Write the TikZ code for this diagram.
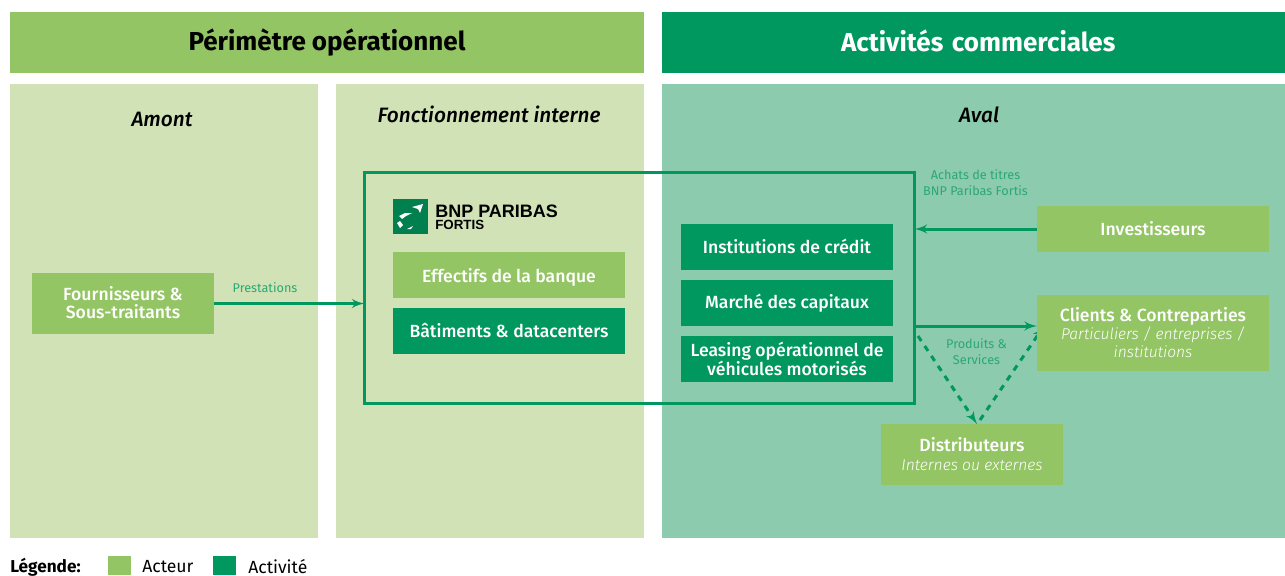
\documentclass[tikz,border=0pt]{standalone}
\usepackage{fontspec}
\setmainfont{Fira Sans}
\newfontfamily\boxfont{Fira Sans Medium}
\newfontfamily\lightfont{Fira Sans Light}
\newfontfamily\logofont{Liberation Sans}
\usetikzlibrary{positioning, arrows, backgrounds}
\definecolor{darkgreen}{HTML}{00985F}
\definecolor{actorgreen}{HTML}{94C564}
\definecolor{palegreen}{HTML}{D0E2B6}
\definecolor{palesea}{HTML}{8CCBAD}
\definecolor{labelgreen}{HTML}{2BA874}
\definecolor{logogreen}{HTML}{007F4F}
\tikzstyle{head}=[font=\fontsize{19.5pt}{22pt}\selectfont\bfseries, minimum height=45.75pt, inner sep=0pt, outer sep=0pt]
\tikzstyle{panel}=[fill=palegreen, minimum width=231pt, minimum height=340.5pt, inner sep=0pt, outer sep=0pt]
\tikzstyle{zone}=[font=\boxfont\fontsize{15.6pt}{18pt}\selectfont\itshape, inner sep=0pt]
\tikzstyle{actor}=[fill=actorgreen, text=white, align=center, inner sep=0pt, outer sep=0pt, font=\boxfont\fontsize{13.2pt}{13.5pt}\selectfont]
\tikzstyle{activity}=[fill=darkgreen, text=white, align=center, inner sep=0pt, outer sep=0pt, minimum height=34.5pt, font=\boxfont\fontsize{13.2pt}{13.5pt}\selectfont]
\tikzstyle{flow}=[font=\fontsize{9.5pt}{12pt}\selectfont, text=labelgreen, align=center, inner sep=0pt]
\tikzstyle{legendtext}=[font=\fontsize{13.2pt}{15pt}\selectfont, anchor=west, inner sep=0pt]
\tikzstyle{link}=[->, draw=darkgreen, line width=2.25pt]
\tikzstyle{dashlink}=[link, dash pattern=on 4.5pt off 4.5pt]
\newcommand{\subline}[1]{{\lightfont\fontsize{11.7pt}{14pt}\selectfont\itshape #1}}

\begin{document}
\begin{tikzpicture}[x=0.75pt, y=-0.75pt, > = latex']
    \useasboundingbox (0,0) rectangle (1285,575);
    \begin{pgfonlayer}{background}
        \node [panel] (amont) at (164,311) {};
        \node [panel] (interne) at (490,311) {};
        \node [panel, fill=palesea, minimum width=467.25pt] (aval) at (973.5,311) {};
    \end{pgfonlayer}
    \node [head, fill=actorgreen, minimum width=475.5pt] (perimetre) at (327,42.5) {\raisebox{2pt}{Périmètre opérationnel}};
    \node [head, fill=darkgreen, text=white, minimum width=467.25pt, text width=467.25pt, align=center] (commerce) at (973.5,42.5) {\hspace*{7pt}\raisebox{3.5pt}{Activités commerciales}};
    \node [zone] (amontlabel) at (162,119.5) {Amont};
    \node [zone] (internelabel) at (489,114.5) {Fonctionnement interne};
    \node [zone] (avallabel) at (979,115) {Aval};

    \node [draw=darkgreen, line width=2.25pt, minimum width=412.5pt, minimum height=173.25pt, inner sep=0pt, outer sep=0pt] (frame) at (639.5,288) {};

    \node [fill=logogreen, minimum size=26.25pt, inner sep=0pt] (logo) at (410.5,216.5) {};
    \fill [white] (412,207) -- (423,204) -- (420,213) -- (418,209) -- cycle
        (399,216) -- (405,213) -- (412,213) -- (406,216) -- (402,219) -- cycle
        (397,223) -- (400,221) -- (403,225) -- (400,228) -- cycle
        (407,229) -- (413,226) -- (411,229) -- cycle;
    \node [anchor=west, inner sep=0pt, font=\logofont\fontsize{13.5pt}{14pt}\selectfont\bfseries] (bnp) at (435,211) {BNP PARIBAS};
    \node [below=2pt of bnp.south west, anchor=north west, inner sep=0pt, font=\logofont\fontsize{10pt}{10pt}\selectfont\bfseries] (fortis) {FORTIS};

    \node [actor, minimum width=136.5pt, minimum height=45.75pt] (fournisseurs) at (123,303.5) {\raisebox{1.5pt}{Fournisseurs \&}\\\raisebox{1.5pt}{Sous-traitants}};
    \node [actor, minimum width=174pt, minimum height=34.5pt, text depth=0pt] (effectifs) at (509,275) {Effectifs de la banque};
    \node [activity, minimum width=174pt, below of=effectifs, node distance=42pt] (batiments) {Bâtiments \& datacenters};
    \node [activity, minimum width=159pt] (credit) at (787,247) {\raisebox{0.7pt}{Institutions de crédit}};
    \node [activity, minimum width=159pt, below of=credit, node distance=42pt] (capitaux) {\raisebox{-0.7pt}{Marché des capitaux}};
    \node [activity, minimum width=159pt, below of=capitaux, node distance=42pt] (leasing) {Leasing opérationnel de\\véhicules motorisés};
    \node [actor, minimum width=174pt, minimum height=34.5pt] (investisseurs) at (1153,229) {Investisseurs};
    \node [actor, minimum width=174pt, minimum height=57pt] (clients) at (1153,333) {\raisebox{-1pt}{Clients \& Contreparties}\\\raisebox{-1pt}{\subline{Particuliers / entreprises /}}\\\raisebox{-1pt}{\subline{institutions}}};
    \node [actor, minimum width=136.5pt, minimum height=45.75pt] (distributeurs) at (972,454.5) {\raisebox{0.7pt}{Distributeurs}\\\subline{Internes ou externes}};

    \node [flow] (prestations) at (265,287.5) {Prestations};
    \node [flow] (achats) at (975.5,182.5) {Achats de titres\\BNP Paribas Fortis};
    \node [flow] (produits) at (976.5,351.5) {Produits \&\\Services};

    \coordinate (clientsin) at (1037,326);
    \coordinate (dashstart) at (918,336);
    \coordinate (distribin) at (977,424);
    \coordinate (dashback) at (980,420);
    \coordinate (clientsback) at (1044,326);
    \begin{pgfonlayer}{background}
        \draw [link] (fournisseurs) -- (fournisseurs -| frame.west);
        \draw [link] (investisseurs) -- (investisseurs -| frame.east);
        \draw [link] (clientsin -| frame.east) -- (clientsin);
        \draw [dashlink] (dashstart) -- (distribin);
        \draw [dashlink] (dashback) -- (clientsback);
    \end{pgfonlayer}

    \node [legendtext, font=\fontsize{12.9pt}{15pt}\selectfont\bfseries] (legende) at (10,567) {Légende:};
    \node [actor, minimum width=17.25pt, minimum height=14.25pt] (keyactor) at (119.5,565.5) {};
    \node [legendtext] (labelactor) at (142,567) {Acteur};
    \node [activity, minimum width=17.25pt, minimum height=14.25pt] (keyactivity) at (224.5,565.5) {};
    \node [legendtext] (labelactivity) at (248,567) {Activité};
\end{tikzpicture}
\end{document}
